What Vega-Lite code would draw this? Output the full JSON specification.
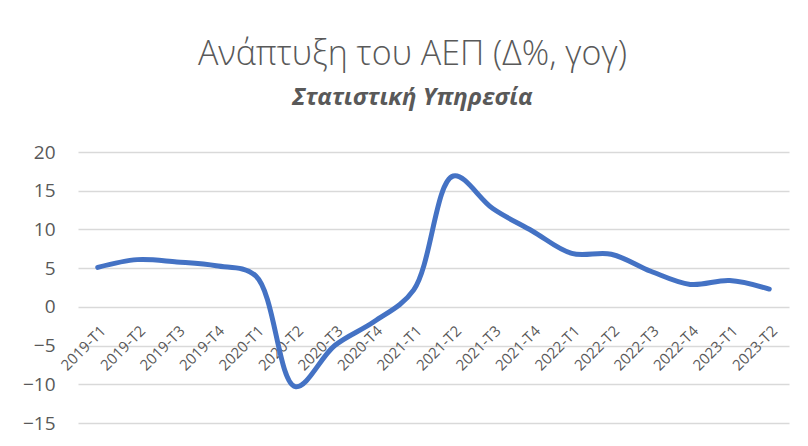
{
  "$schema": "https://vega.github.io/schema/vega-lite/v6.json",
  "width": 711,
  "height": 271,
  "autosize": {"type": "none"},
  "padding": {"left": 78, "top": 152, "right": 19, "bottom": 23},
  "background": "white",
  "title": {
    "text": "Ανάπτυξη του ΑΕΠ (Δ%, γογ)",
    "subtitle": "Στατιστική Υπηρεσία",
    "anchor": "middle",
    "dx": -21,
    "offset": 33,
    "font": "Open Sans",
    "fontSize": 34,
    "fontWeight": 300,
    "color": "#595959",
    "subtitleFont": "Open Sans",
    "subtitleFontSize": 24,
    "subtitleFontWeight": "bold",
    "subtitleFontStyle": "italic",
    "subtitleColor": "#595959",
    "subtitlePadding": 14
  },
  "data": {
    "values": [
      {"q": "2019-T1", "v": 5.1},
      {"q": "2019-T2", "v": 6.1},
      {"q": "2019-T3", "v": 5.8},
      {"q": "2019-T4", "v": 5.3},
      {"q": "2020-T1", "v": 4.0},
      {"q": "2020-T2", "v": -10.3},
      {"q": "2020-T3", "v": -5.0},
      {"q": "2020-T4", "v": -1.9},
      {"q": "2021-T1", "v": 2.2},
      {"q": "2021-T2", "v": 16.9},
      {"q": "2021-T3", "v": 12.7},
      {"q": "2021-T4", "v": 9.8},
      {"q": "2022-T1", "v": 6.9},
      {"q": "2022-T2", "v": 6.8},
      {"q": "2022-T3", "v": 4.6},
      {"q": "2022-T4", "v": 2.9},
      {"q": "2023-T1", "v": 3.4},
      {"q": "2023-T2", "v": 2.3}
    ]
  },
  "mark": {"type": "line", "interpolate": "catmull-rom", "color": "#4472C4", "strokeWidth": 5, "strokeCap": "round", "strokeJoin": "round"},
  "encoding": {
    "x": {
      "field": "q",
      "type": "ordinal",
      "sort": null,
      "scale": {"type": "point", "padding": 0.5},
      "axis": {
        "title": null,
        "orient": "bottom",
        "offset": -116,
        "domain": false,
        "ticks": false,
        "grid": false,
        "labelAngle": -45,
        "labelFont": "Open Sans",
        "labelFontSize": 15,
        "labelColor": "#595959",
        "labelPadding": 16
      }
    },
    "y": {
      "field": "v",
      "type": "quantitative",
      "scale": {"domain": [-15, 20], "nice": false, "zero": false},
      "axis": {
        "title": null,
        "values": [-15, -10, -5, 0, 5, 10, 15, 20],
        "domain": false,
        "ticks": false,
        "grid": true,
        "gridColor": "#d9d9d9",
        "gridWidth": 1.5,
        "labelFont": "Open Sans",
        "labelFontSize": 19,
        "labelColor": "#595959",
        "labelPadding": 23
      }
    }
  },
  "config": {
    "view": {"stroke": null}
  }
}
